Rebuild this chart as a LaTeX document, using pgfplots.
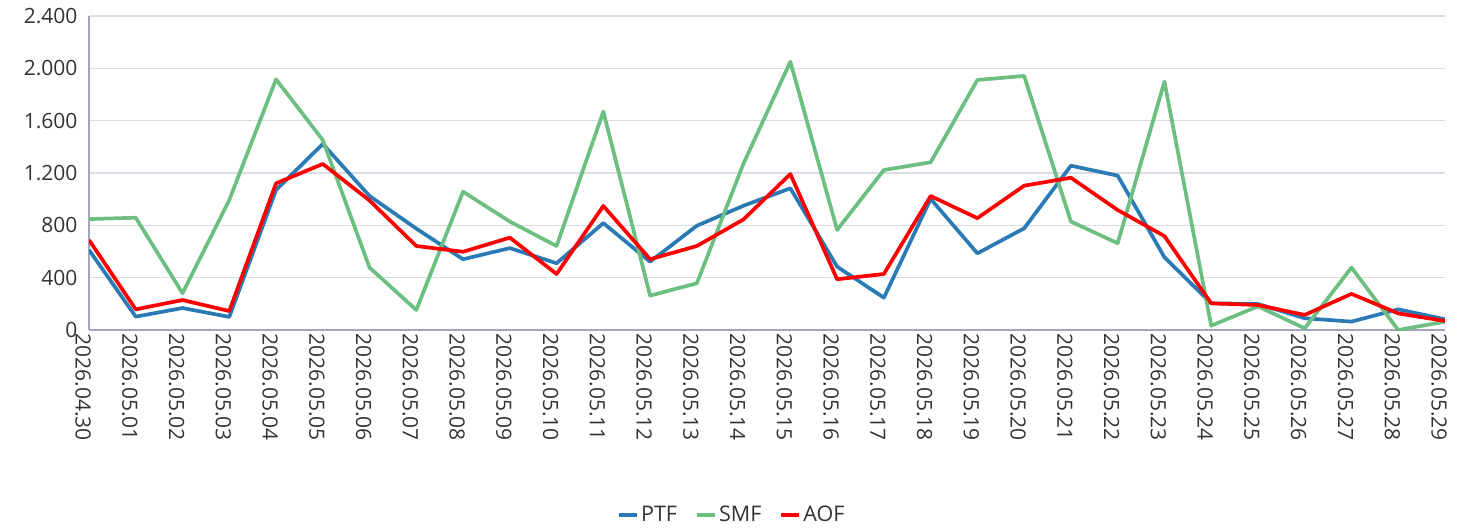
\documentclass[border=0pt]{standalone}
\usepackage{fontspec}
\setmainfont{Open Sans}
\usepackage{pgfplots}
\pgfplotsset{compat=1.18}
\definecolor{ptf}{HTML}{2A7AB5}
\definecolor{smf}{HTML}{6CBF80}
\definecolor{aof}{HTML}{FF0000}
\definecolor{gridc}{HTML}{DCDCE6}
\definecolor{axisc}{HTML}{A3A6C0}
\definecolor{txt}{HTML}{333333}
\begin{document}
\begin{tikzpicture}[x=1pt,y=1pt]
\path[use as bounding box] (0,0) rectangle (1483,531);
\begin{axis}[
  at={(89pt,201pt)}, anchor=south west,
  scale only axis, width=1356pt, height=314pt,
  xmin=0, xmax=29, ymin=0, ymax=2400,
  xtick={0,...,29},
  xticklabels={2026.04.30,2026.05.01,2026.05.02,2026.05.03,2026.05.04,2026.05.05,2026.05.06,2026.05.07,2026.05.08,2026.05.09,2026.05.10,2026.05.11,2026.05.12,2026.05.13,2026.05.14,2026.05.15,2026.05.16,2026.05.17,2026.05.18,2026.05.19,2026.05.20,2026.05.21,2026.05.22,2026.05.23,2026.05.24,2026.05.25,2026.05.26,2026.05.27,2026.05.28,2026.05.29},
  ytick={0,400,...,2400},
  /pgf/number format/assume math mode=true,
  /pgf/number format/1000 sep={.},
  scaled y ticks=false,
  ymajorgrids, grid style={gridc, line width=1.2pt},
  axis x line*=bottom, axis y line*=left,
  axis line style={axisc, line width=1.4pt},
  major tick length=0pt,
  tick label style={font=\fontsize{21}{24}\selectfont, text=txt},
  xticklabel style={rotate=-90, anchor=west, xshift=0pt, yshift=-6pt},
  yticklabel style={xshift=-8pt},
  legend style={at={(0.474,-0.589)}, anchor=center, draw=none, fill=none,
    legend columns=-1, font=\fontsize{21.5}{24}\selectfont, text=txt,
    /tikz/every even column/.append style={column sep=16pt}},
  legend image code/.code={\draw[line width=4pt] (0pt,0pt) -- (18pt,0pt);},
  every axis plot/.append style={line width=3.7pt, line join=round},
]
\addplot[ptf] coordinates {(0,612)(1,102)(2,168)(3,100)(4,1070)(5,1422)(6,1024)(7,775)(8,541)(9,626)(10,510)(11,817)(12,522)(13,797)(14,950)(15,1083)(16,484)(17,247)(18,1002)(19,586)(20,777)(21,1256)(22,1180)(23,556)(24,204)(25,199)(26,90)(27,64)(28,158)(29,82)};
\addlegendentry{PTF}
\addplot[smf] coordinates {(0,848)(1,858)(2,281)(3,994)(4,1916)(5,1452)(6,477)(7,153)(8,1057)(9,829)(10,642)(11,1669)(12,263)(13,357)(14,1274)(15,2051)(16,765)(17,1223)(18,1282)(19,1911)(20,1942)(21,829)(22,663)(23,1898)(24,33)(25,181)(26,13)(27,477)(28,0)(29,64)};
\addlegendentry{SMF}
\addplot[aof] coordinates {(0,688)(1,158)(2,229)(3,145)(4,1121)(5,1269)(6,990)(7,642)(8,598)(9,706)(10,428)(11,948)(12,541)(13,642)(14,846)(15,1192)(16,388)(17,428)(18,1024)(19,855)(20,1103)(21,1164)(22,917)(23,718)(24,204)(25,191)(26,115)(27,276)(28,127)(29,69)};
\addlegendentry{AOF}
\end{axis}
\end{tikzpicture}
\end{document}
